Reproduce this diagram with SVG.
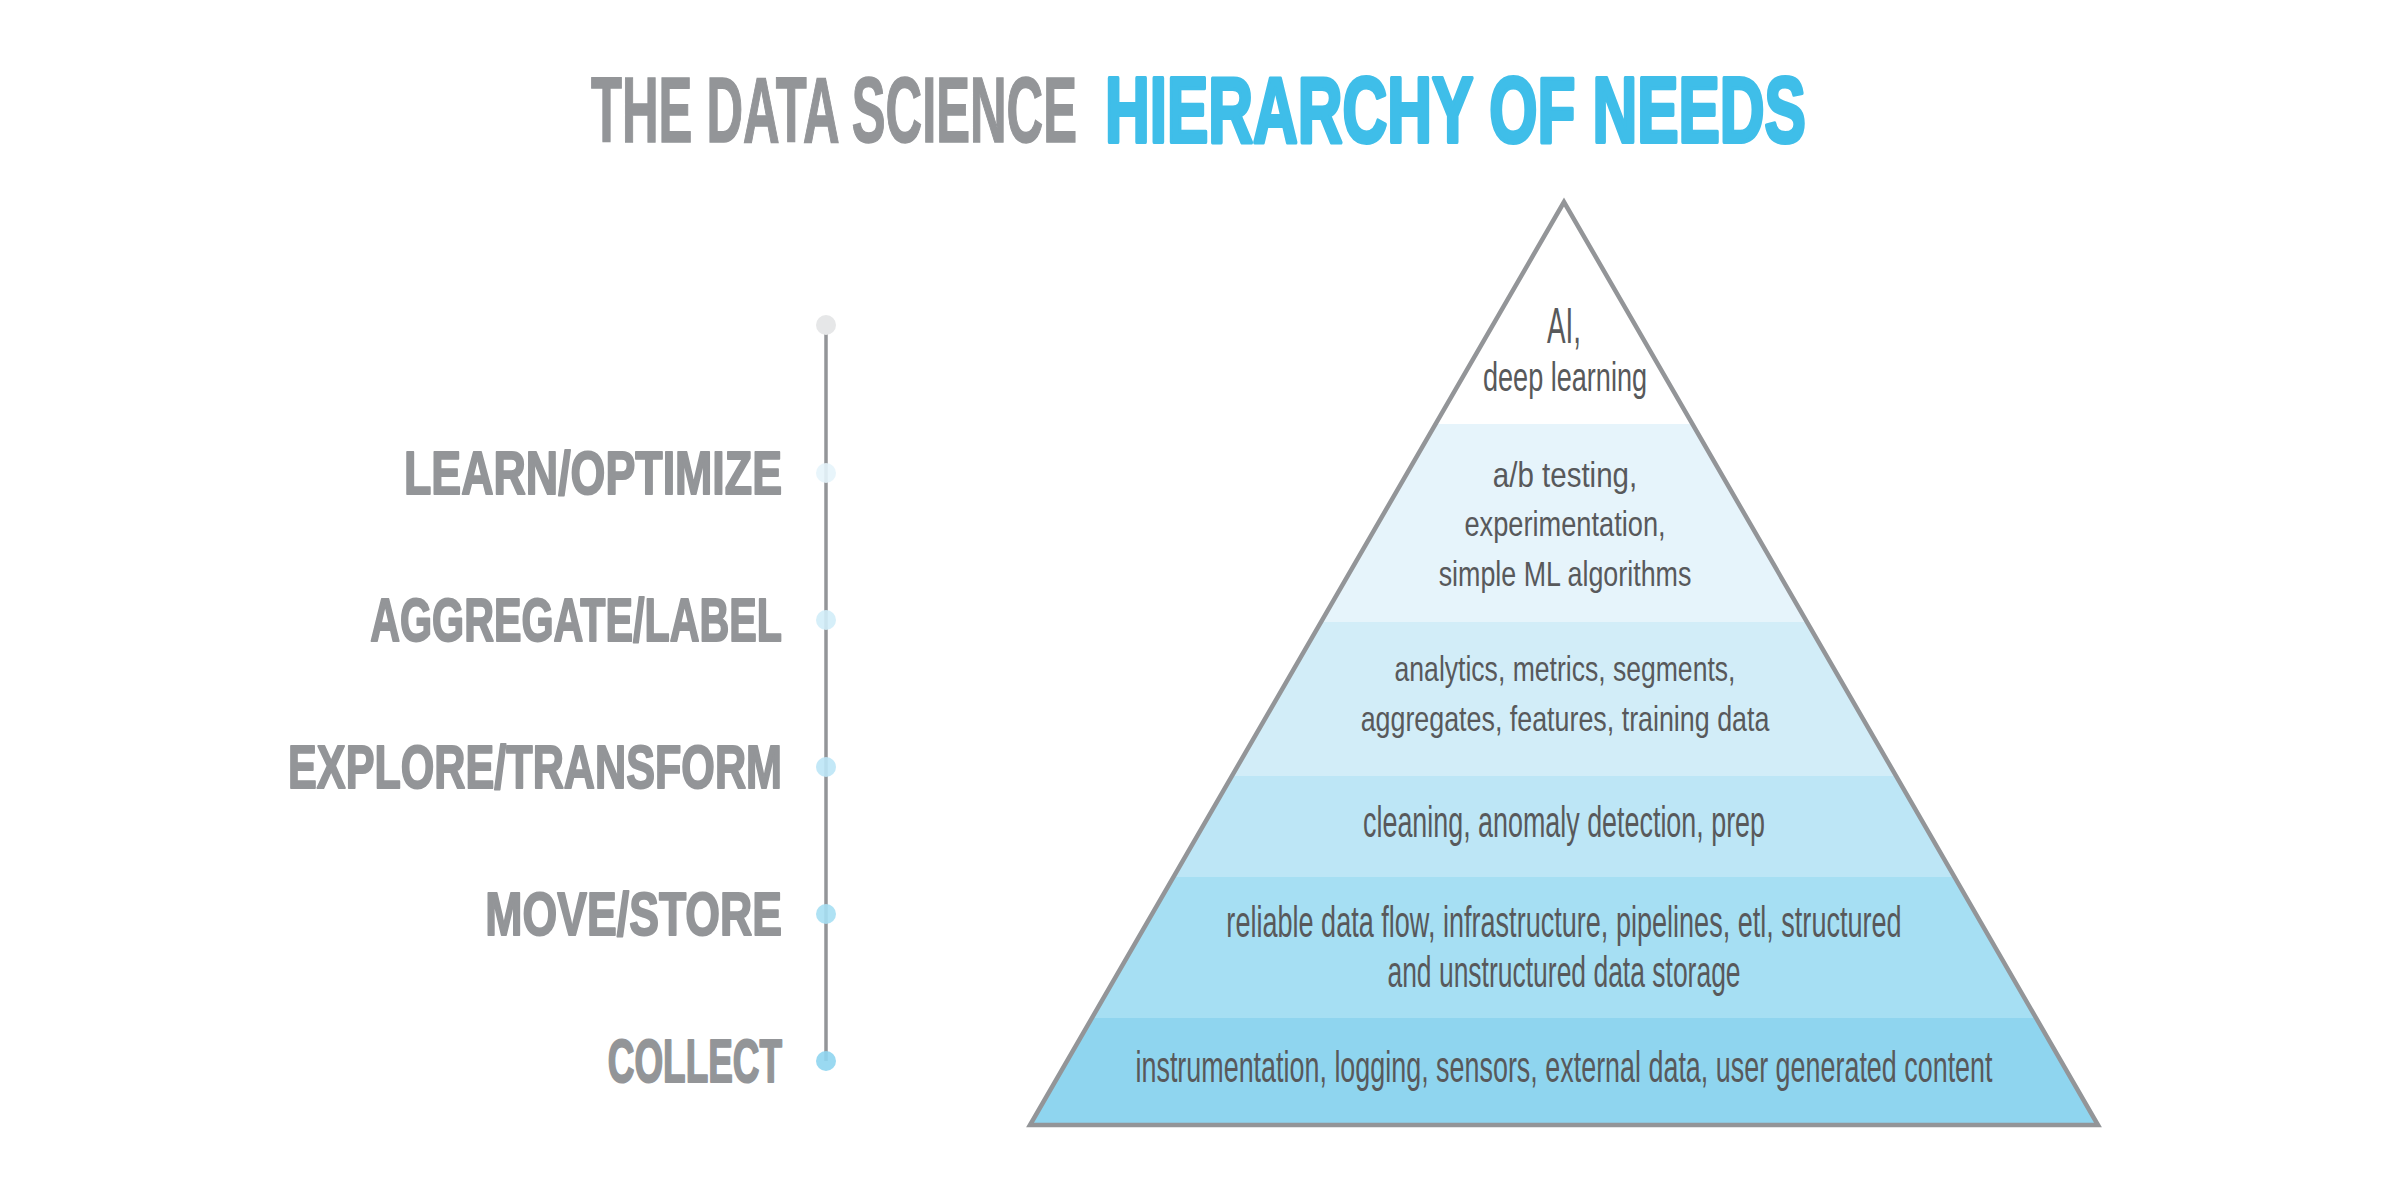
<svg xmlns="http://www.w3.org/2000/svg" width="2400" height="1200" viewBox="0 0 2400 1200">
  <defs>
    <clipPath id="tri">
      <polygon points="1564,202 1030,1125 2098,1125"/>
    </clipPath>
    <style>
      .title { font-family: "Liberation Sans", Arial, sans-serif; font-weight: 700; font-size: 92px; }
      .t-gray { fill: #939598; stroke: #939598; stroke-width: 1.5; }
      .t-blue { fill: #3fbee9; stroke: #3fbee9; stroke-width: 4; stroke-linejoin: round; }
      .label { font-family: "Liberation Sans", Arial, sans-serif; font-weight: 700; font-size: 62px; fill: #939598; stroke: #939598; stroke-width: 2; stroke-linejoin: round; text-anchor: end; }
      .body { font-family: "Liberation Sans", Arial, sans-serif; fill: #58595b; text-anchor: middle; }
      .up { font-size: 35px; }
      .low { font-size: 44px; }
      .outline { fill: none; stroke: #939598; stroke-width: 4.5; stroke-linejoin: miter; }
      .dot { stroke: none; fill-opacity: 0.9; }
    </style>
  </defs>
  <rect width="2400" height="1200" fill="#ffffff"/>

  <g id="title">
    <text class="title t-gray" transform="translate(591,142) scale(0.54,1)" x="0" y="0" textLength="900" lengthAdjust="spacingAndGlyphs">THE DATA SCIENCE</text>
    <text class="title t-blue" transform="translate(1105,142) scale(0.66,1)" x="0" y="0" textLength="1062" lengthAdjust="spacingAndGlyphs">HIERARCHY OF NEEDS</text>
  </g>

  <g id="connectors">
    <line x1="826" y1="325" x2="826" y2="1061" stroke="#939598" stroke-width="3.5"/>
  </g>

  <g id="timeline-top">
    <circle cx="826" cy="325" r="10" fill="#e6e7e8"/>
  </g>
  <g id="label-learn">
    <circle class="dot" cx="826" cy="473" r="10" fill="#e6f4fb"/>
    <text class="label" transform="translate(782,494) scale(0.72,1)" x="0" y="0" textLength="525" lengthAdjust="spacingAndGlyphs">LEARN/OPTIMIZE</text>
  </g>
  <g id="label-aggregate">
    <circle class="dot" cx="826" cy="620" r="10" fill="#d2edf8"/>
    <text class="label" transform="translate(782,641) scale(0.72,1)" x="0" y="0" textLength="572" lengthAdjust="spacingAndGlyphs">AGGREGATE/LABEL</text>
  </g>
  <g id="label-explore">
    <circle class="dot" cx="826" cy="767" r="10" fill="#bde6f6"/>
    <text class="label" transform="translate(782,788) scale(0.72,1)" x="0" y="0" textLength="686" lengthAdjust="spacingAndGlyphs">EXPLORE/TRANSFORM</text>
  </g>
  <g id="label-move">
    <circle class="dot" cx="826" cy="914" r="10" fill="#a6dff3"/>
    <text class="label" transform="translate(782,935) scale(0.72,1)" x="0" y="0" textLength="412" lengthAdjust="spacingAndGlyphs">MOVE/STORE</text>
  </g>
  <g id="label-collect">
    <circle class="dot" cx="826" cy="1061" r="10" fill="#8fd5ef"/>
    <text class="label" transform="translate(782,1082) scale(0.72,1)" x="0" y="0" textLength="242" lengthAdjust="spacingAndGlyphs">COLLECT</text>
  </g>

  <g id="pyramid">
    <g clip-path="url(#tri)">
      <rect id="band-ai" x="1000" y="200" width="1120" height="224" fill="#ffffff"/>
      <rect id="band-ab" x="1000" y="424" width="1120" height="198" fill="#e6f4fb"/>
      <rect id="band-analytics" x="1000" y="622" width="1120" height="154" fill="#d2edf8"/>
      <rect id="band-cleaning" x="1000" y="776" width="1120" height="101" fill="#bde6f6"/>
      <rect id="band-flow" x="1000" y="877" width="1120" height="141" fill="#a6dff3"/>
      <rect id="band-collect" x="1000" y="1018" width="1120" height="110" fill="#8fd5ef"/>
    </g>
    <polygon class="outline" points="1564,202 1030,1125 2098,1125"/>
  </g>

  <g id="level-ai">
    <text class="body" font-size="50" transform="translate(1564,343) scale(0.54,1)" x="0" y="0" textLength="63" lengthAdjust="spacingAndGlyphs">AI,</text>
    <text class="body" font-size="40" transform="translate(1565,391) scale(0.626,1)" x="0" y="0" textLength="262" lengthAdjust="spacingAndGlyphs">deep learning</text>
  </g>
  <g id="level-ab">
    <text class="body up" transform="translate(1565,487) scale(0.78,1)" x="0" y="0" textLength="185" lengthAdjust="spacingAndGlyphs">a/b testing,</text>
    <text class="body up" transform="translate(1565,536) scale(0.78,1)" x="0" y="0" textLength="258" lengthAdjust="spacingAndGlyphs">experimentation,</text>
    <text class="body up" transform="translate(1565,586) scale(0.78,1)" x="0" y="0" textLength="324" lengthAdjust="spacingAndGlyphs">simple ML algorithms</text>
  </g>
  <g id="level-analytics">
    <text class="body up" transform="translate(1565,681) scale(0.78,1)" x="0" y="0" textLength="437" lengthAdjust="spacingAndGlyphs">analytics, metrics, segments,</text>
    <text class="body up" transform="translate(1565,731) scale(0.78,1)" x="0" y="0" textLength="524" lengthAdjust="spacingAndGlyphs">aggregates, features, training data</text>
  </g>
  <g id="level-cleaning">
    <text class="body low" transform="translate(1564,837) scale(0.61,1)" x="0" y="0" textLength="659" lengthAdjust="spacingAndGlyphs">cleaning, anomaly detection, prep</text>
  </g>
  <g id="level-flow">
    <text class="body low" transform="translate(1564,937) scale(0.61,1)" x="0" y="0" textLength="1107" lengthAdjust="spacingAndGlyphs">reliable data flow, infrastructure, pipelines, etl, structured</text>
    <text class="body low" transform="translate(1564,987) scale(0.61,1)" x="0" y="0" textLength="579" lengthAdjust="spacingAndGlyphs">and unstructured data storage</text>
  </g>
  <g id="level-collect">
    <text class="body low" transform="translate(1564,1082) scale(0.61,1)" x="0" y="0" textLength="1405" lengthAdjust="spacingAndGlyphs">instrumentation, logging, sensors, external data, user generated content</text>
  </g>
</svg>
